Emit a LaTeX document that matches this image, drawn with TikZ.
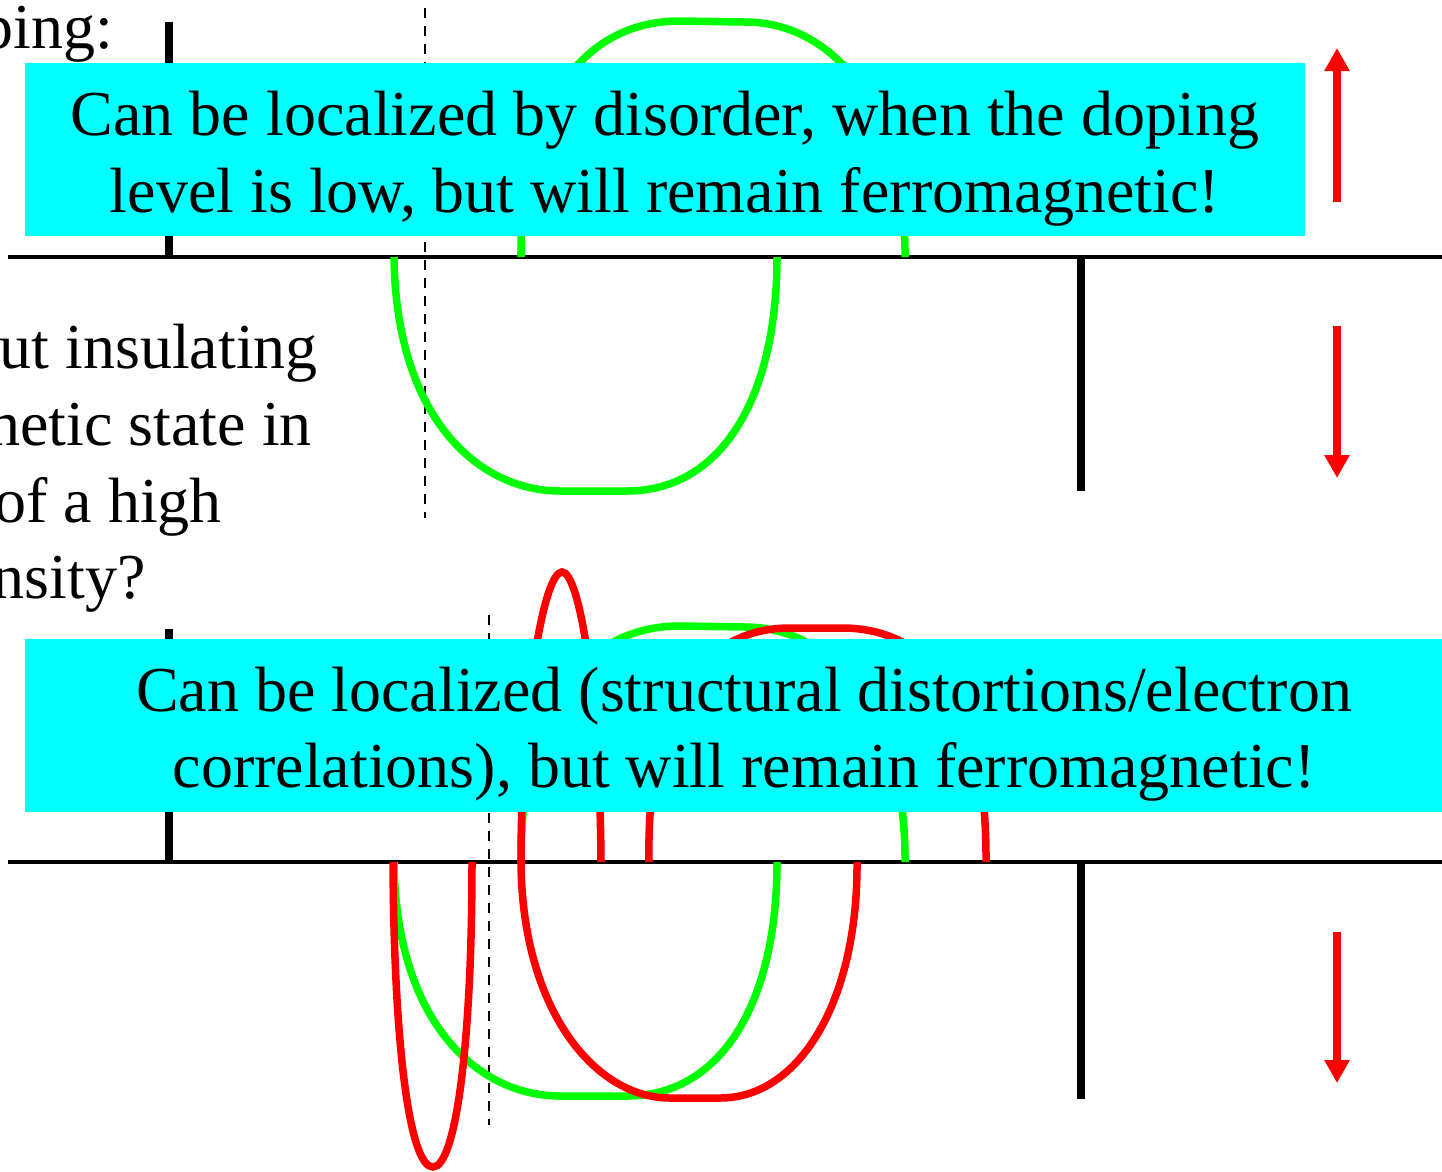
\documentclass[tikz,border=0pt]{standalone}
\usepackage{fontspec}
\setmainfont{Liberation Serif}
\usetikzlibrary{arrows.meta}
\definecolor{boxcyan}{RGB}{0,255,255}
\definecolor{curvegreen}{RGB}{0,255,0}
\definecolor{curvered}{RGB}{255,0,0}
\begin{document}
\begin{tikzpicture}[x=1pt,y=-1pt,
  axisline/.style={line width=3.5pt, black},
  barline/.style={line width=7.5pt, black},
  dashline/.style={line width=2.6pt, black, dash pattern=on 10pt off 8pt},
  gcurve/.style={line width=7.5pt, color=curvegreen},
  rcurve/.style={line width=7.5pt, color=curvered},
  spinarrow/.style={line width=7.5pt, color=curvered, -{Triangle[width=24pt,length=23pt]}},
  infobox/.style={fill=boxcyan, draw=none, inner sep=0pt, anchor=north west},
  txt/.style={font=\fontsize{64}{77}\selectfont, inner sep=0pt, anchor=base},
  sidetxt/.style={font=\fontsize{64}{77}\selectfont, inner sep=0pt, anchor=base east},
]
\useasboundingbox (0,0) rectangle (1442,1171);
\clip (0,0) rectangle (1442,1171);

% ---------- top panel ----------
\coordinate (a1l) at (8,257);   \coordinate (a1r) at (1442,257);
\coordinate (b1t) at (169,22);  \coordinate (b1b) at (169,257);
\coordinate (c1t) at (1081,257);\coordinate (c1b) at (1081,491);
\coordinate (d1t) at (425,8);   \coordinate (d1b) at (425,518);
\draw[dashline] (d1t) -- (d1b);
\draw[barline] (b1t) -- (b1b);
\draw[barline] (c1t) -- (c1b);
\draw[axisline] (a1l) -- (a1r);

\draw[gcurve] (521,257) .. controls (520,110) and (580,21) .. (680,21)
  -- (745,22) .. controls (835,22) and (906,110) .. (905,257);
\draw[gcurve] (394,257) .. controls (396,420) and (480,491) .. (560,491)
  -- (627,491) .. controls (720,491) and (777,400) .. (777,257);

\node[infobox, minimum width=1280pt, minimum height=173pt] (topbox) at (25,63) {};
\node[txt] (topl1) at (665,135) {Can be localized by disorder, when the doping};
\node[txt] (topl2) at (665,212) {level is low, but will remain ferromagnetic!};

\coordinate (u1s) at (1337,202); \coordinate (u1e) at (1337,48);
\coordinate (v1s) at (1337,326); \coordinate (v1e) at (1337,478);
\draw[spinarrow] (u1s) -- (u1e);
\draw[spinarrow] (v1s) -- (v1e);

% ---------- left text ----------
\node[sidetxt] (s0) at (113,48) {doping:};
\node[sidetxt] (s1) at (318,368) {but insulating};
\node[sidetxt] (s2) at (312,445) {magnetic state in};
\node[sidetxt] (s3) at (222,522) {of a high};
\node[sidetxt] (s4) at (146,598) {density?};

% ---------- bottom panel ----------
\coordinate (a2l) at (8,862);   \coordinate (a2r) at (1442,862);
\coordinate (b2t) at (169,629); \coordinate (b2b) at (169,862);
\coordinate (c2t) at (1081,862);\coordinate (c2b) at (1081,1099);
\coordinate (d2t) at (489,615); \coordinate (d2b) at (489,1125);
\draw[dashline] (d2t) -- (d2b);
\draw[barline] (b2t) -- (b2b);
\draw[barline] (c2t) -- (c2b);
\draw[axisline] (a2l) -- (a2r);

\begin{scope}[yshift=-605pt]
\draw[gcurve] (521,257) .. controls (520,110) and (580,21) .. (680,21)
  -- (745,22) .. controls (835,22) and (906,110) .. (905,257);
\draw[gcurve] (394,257) .. controls (396,420) and (480,491) .. (560,491)
  -- (627,491) .. controls (720,491) and (777,400) .. (777,257);
\end{scope}
% red curves
\draw[rcurve] (601,862) .. controls (600,700) and (580,572) .. (562,572)
  .. controls (544,572) and (521,700) .. (521,862)
  .. controls (522,1010) and (595,1098) .. (670,1098)
  -- (720,1098) .. controls (800,1098) and (858,1000) .. (857,862);
\draw[rcurve] (649,862) .. controls (646,700) and (705,628) .. (790,628)
  -- (842,628) .. controls (930,628) and (987,700) .. (986,862);
\draw[rcurve] (393,862) .. controls (394,1050) and (410,1167) .. (433,1167)
  .. controls (455,1167) and (472,1050) .. (472,862);

\node[infobox, minimum width=1430pt, minimum height=173pt] (botbox) at (25,639) {};
\node[txt] (botl1) at (744,711) {Can be localized (structural distortions/electron};
\node[txt] (botl2) at (744,787) {correlations), but will remain ferromagnetic!};

\coordinate (v2s) at (1337,932); \coordinate (v2e) at (1337,1083);
\draw[spinarrow] (v2s) -- (v2e);
\end{tikzpicture}
\end{document}
